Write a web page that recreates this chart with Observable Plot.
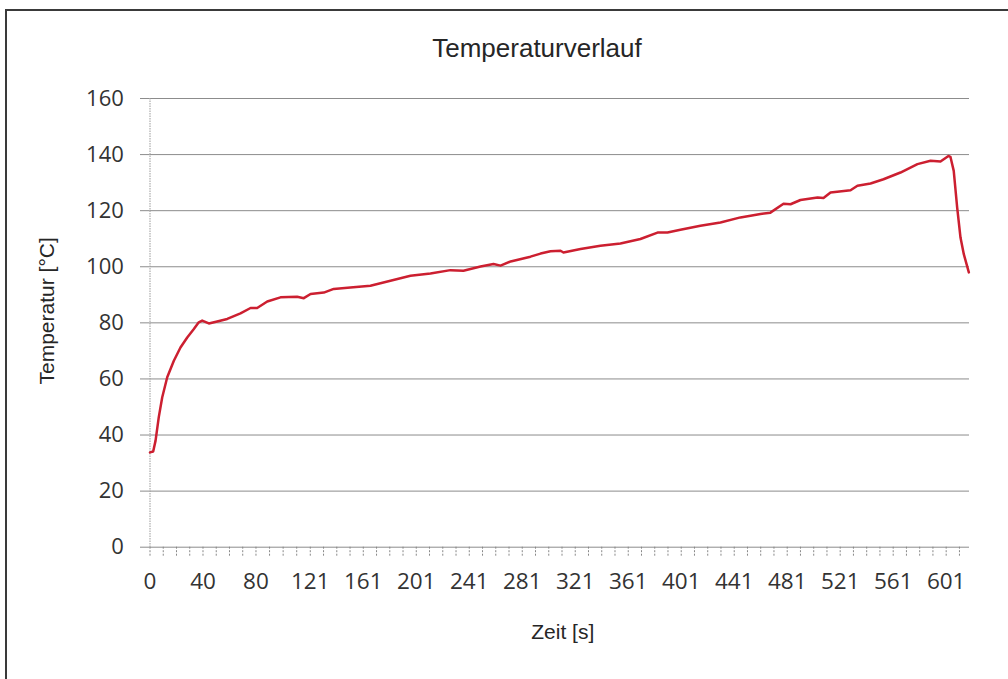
<!DOCTYPE html>
<html>
<head>
<meta charset="utf-8">
<script src="https://cdn.jsdelivr.net/npm/d3@7"></script>
<script src="https://cdn.jsdelivr.net/npm/@observablehq/plot@0.6"></script>
<style>
  html, body { margin: 0; padding: 0; background: #fff; }
  #wrap { position: relative; width: 1008px; height: 679px; overflow: hidden; background: #fff; }
  #frame { position: absolute; left: 5px; top: 9px; width: 1100px; height: 800px; border: 2px solid #3a3a3a; }
  #title { position: absolute; left: 0; top: 33px; width: 1074px; text-align: center;
           font-family: "Liberation Sans", Arial, sans-serif; font-size: 26px; color: #262626; }
  #chart { position: absolute; left: 0; top: 70px; }
</style>
</head>
<body>
<div id="wrap">
  <div id="frame"></div>
  <div id="title">Temperaturverlauf</div>
  <div id="chart"></div>
</div>
<script>
// Zeit [s]
const time = [0, 2.4, 4.2, 6.6, 9.2, 13, 18, 23, 28.1, 33.1, 36.8, 39.4, 44.4, 50.7, 58.3, 68.3,
  75.9, 80.9, 88.5, 98.5, 111.1, 116.1, 121.2, 131.2, 138.7, 151.3, 166.4, 181.5, 196.6, 211.7,
  226.8, 236.6, 249.5, 259.3, 264.6, 272.2, 287.2, 294.8, 302.3, 309.9, 312.1, 325, 340, 355.1,
  370.2, 383.1, 390.6, 400.4, 415.5, 430.6, 445.7, 453.3, 460.8, 468.3, 478.2, 483.5, 491, 503.9,
  508.4, 513.7, 528.8, 534, 543.9, 553.7, 566.5, 579.3, 589.2, 596.7, 602.7, 604.2, 606.7, 609.3,
  611.8, 614.3, 618.1];
// Temperatur [°C]
const temp = [33.8, 34.1, 38, 46.3, 53.4, 60.6, 66.5, 71.2, 74.8, 77.8, 80.2, 80.8, 79.8, 80.5, 81.4, 83.4,
  85.3, 85.3, 87.6, 89.1, 89.3, 88.8, 90.3, 90.8, 92.1, 92.6, 93.2, 95, 96.8, 97.6,
  98.8, 98.6, 100.1, 101, 100.4, 101.9, 103.6, 104.7, 105.5, 105.7, 105.1, 106.3, 107.5, 108.3,
  109.9, 112.2, 112.2, 113.2, 114.6, 115.8, 117.6, 118.2, 118.8, 119.3, 122.5, 122.3, 123.8, 124.7,
  124.5, 126.5, 127.3, 128.9, 129.7, 131.2, 133.6, 136.6, 137.8, 137.5, 139.5, 139.2, 134.2, 121.1,
  110.4, 104.5, 98];
// Achsenbeschriftungen
const xLabels = [0, 40, 80, 121, 161, 201, 241, 281, 321, 361, 401, 441, 481, 521, 561, 601];
const yTicks = [0, 20, 40, 60, 80, 100, 120, 140, 160];

const data = time.map((t, i) => ({t, T: temp[i]}));

// minor ticks: four per label interval, one more beyond the last label
const minor = [];
for (let i = 0; i < xLabels.length - 1; i++) {
  const a = xLabels[i], b = xLabels[i + 1];
  for (let k = 0; k < 4; k++) minor.push(a + (b - a) * k / 4);
}
const lastStep = (xLabels[xLabels.length - 1] - xLabels[0]) / ((xLabels.length - 1) * 4);
minor.push(xLabels[xLabels.length - 1], xLabels[xLabels.length - 1] + lastStep);

const chart = Plot.plot({
  width: 1008,
  height: 600,
  marginTop: 28,
  marginBottom: 123.3,
  marginLeft: 149.5,
  marginRight: 39,
  x: {domain: [0, 618.6]},
  y: {domain: [0, 160]},
  style: {fontFamily: "'Open Sans', sans-serif", fontSize: "22px", color: "#333", background: "transparent", overflow: "visible"},
  marks: [
    Plot.gridY(yTicks, {stroke: "#8c8c8c", strokeOpacity: 1}),
    Plot.axisY(yTicks, {tickSize: 9.5, tickPadding: 16.7, stroke: "#8c8c8c", label: null, fontSize: 22}),
    Plot.ruleX([0], {stroke: "#9a9a9a", strokeDasharray: "1.5,1"}),
    Plot.axisX(minor, {tickSize: 9, tickFormat: () => "", stroke: "#888", strokeDasharray: "2,1.5", label: null}),
    Plot.axisX(xLabels, {tickSize: 0, tickPadding: 26, label: null, fontSize: 22.5}),
    Plot.line(data, {x: "t", y: "T", stroke: "#cc1f30", strokeWidth: 2.5, curve: "linear"}),
    Plot.text(["Temperatur [°C]"], {frameAnchor: "left", textAnchor: "middle", lineAnchor: "middle",
      dx: -103, dy: -12, rotate: -90,
      fontFamily: "'Liberation Sans', Arial, sans-serif", fontSize: 21, fill: "#262626"}),
    Plot.text(["Zeit [s]"], {frameAnchor: "bottom", textAnchor: "middle", dx: 3, dy: 85, lineAnchor: "middle",
      fontFamily: "'Liberation Sans', Arial, sans-serif", fontSize: 21, fill: "#262626"})
  ]
});
document.getElementById("chart").appendChild(chart);
</script>
</body>
</html>
